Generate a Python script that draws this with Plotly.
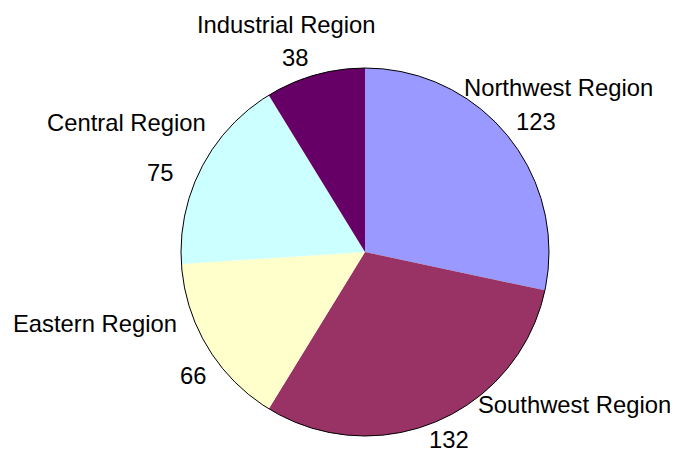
import math
import plotly.graph_objects as go

regions = ["Northwest Region", "Southwest Region", "Eastern Region", "Central Region", "Industrial Region"]
values = [123, 132, 66, 75, 38]
colors = ["#9999FF", "#993366", "#FFFFCC", "#CCFFFF", "#660066"]

# ---- layout / style settings (pixels) ----
PAGE_MARGIN = 8                    # default body margin of the html page
W, H = 678 - PAGE_MARGIN, 452 - PAGE_MARGIN
CX, CY, R = 365 - PAGE_MARGIN, 252 - PAGE_MARGIN, 184   # pie centre and radius (figure px)
LABEL_RADIUS = 1.15                # value label distance as fraction of radius
# small per-label nudges (px) of value text, and offset of the name text from the value text
value_nudge = [(7, 3), (1, -7), (9, 14), (-17, 18), (-13, 9)]
name_offset = [(22, -34), (125, -35), (-98, -52), (-34, -50), (-8, -33)]
FONT = dict(family="Liberation Sans, Arial, sans-serif", size=23.8, color="black")

domain = dict(x=[(CX - R) / W, (CX + R) / W], y=[(H - CY - R) / H, (H - CY + R) / H])

fig = go.Figure()
fig.add_trace(go.Pie(
    labels=regions,
    values=values,
    sort=False,
    direction="clockwise",
    rotation=0,
    marker=dict(colors=colors, line=dict(width=0)),
    textinfo="none",
    domain=domain,
    showlegend=False,
    hoverinfo="label+value",
))
# outline around the whole pie (no borders between slices)
fig.add_trace(go.Pie(
    labels=["outline"],
    values=[1],
    sort=False,
    marker=dict(colors=["rgba(0,0,0,0)"], line=dict(width=1, color="black")),
    textinfo="none",
    domain=domain,
    showlegend=False,
    hoverinfo="skip",
))

total = sum(values)
cum = 0
annotations = []
for i, (name, v) in enumerate(zip(regions, values)):
    mid = (cum + v / 2) / total * 2 * math.pi
    cum += v
    vx = CX + LABEL_RADIUS * R * math.sin(mid) + value_nudge[i][0]
    vy = CY - LABEL_RADIUS * R * math.cos(mid) + value_nudge[i][1]
    nx = vx + name_offset[i][0]
    ny = vy + name_offset[i][1]
    annotations.append(dict(x=vx / W, y=1 - vy / H, xref="paper", yref="paper",
                            text=str(v), showarrow=False, xanchor="center", yanchor="middle",
                            borderpad=0, font=FONT))
    annotations.append(dict(x=nx / W, y=1 - ny / H, xref="paper", yref="paper",
                            text=name, showarrow=False, xanchor="center", yanchor="middle",
                            borderpad=0, font=FONT))

fig.update_layout(
    width=W, height=H,
    margin=dict(l=0, r=0, t=0, b=0),
    paper_bgcolor="white",
    plot_bgcolor="white",
    showlegend=False,
    annotations=annotations,
)

fig.write_html("out.html")
